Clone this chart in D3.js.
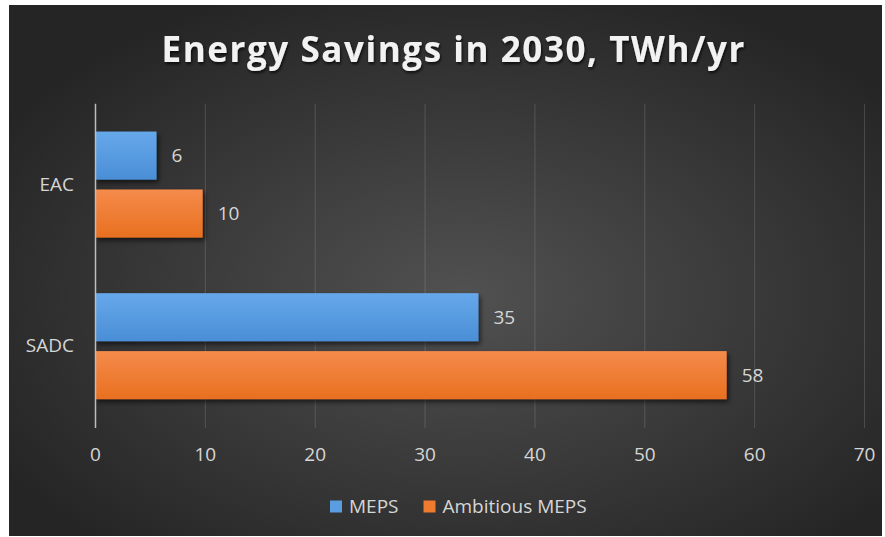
<!DOCTYPE html>
<html>
<head>
<meta charset="utf-8">
<script src="https://cdn.jsdelivr.net/npm/d3@7"></script>
<style>
  body { margin: 0; background: #ffffff; }
  text { font-family: "Open Sans", "DejaVu Sans", sans-serif; }
</style>
</head>
<body>
<div id="chart"></div>
<script>
// data (TWh/yr)
var categories = ["EAC", "SADC"];
var seriesNames = ["MEPS", "Ambitious MEPS"];
var meps = [5.6, 34.9];
var ambitious = [9.8, 57.5];
var xTicks = [0, 10, 20, 30, 40, 50, 60, 70];
var colors = ["#5a9de0", "#ef7b2f"];

chart();

function chart() {
  var width = 885,
      height = 537,
      margin = {top: 103.75, right: 21, bottom: 110, left: 95};

  var svg = d3.select("#chart").append("svg")
    .attr("width", width)
    .attr("height", height);

  var defs = svg.append("defs");

  var bg = defs.append("radialGradient")
    .attr("id", "bg")
    .attr("cx", "52%").attr("cy", "55%").attr("r", "62%");
  bg.append("stop").attr("offset", "0%").attr("stop-color", "#515151");
  bg.append("stop").attr("offset", "100%").attr("stop-color", "#252525");

  var barGrads = [["blueGrad", "#66a8ea", "#4a8ed6"], ["orangeGrad", "#f58b4b", "#e8701f"]];
  barGrads.forEach(function(g) {
    var lg = defs.append("linearGradient")
      .attr("id", g[0])
      .attr("x1", 0).attr("y1", 0).attr("x2", 0).attr("y2", 1);
    lg.append("stop").attr("offset", "0%").attr("stop-color", g[1]);
    lg.append("stop").attr("offset", "100%").attr("stop-color", g[2]);
  });

  defs.append("filter").attr("id", "barShadow")
    .attr("x", "-10%").attr("y", "-20%").attr("width", "130%").attr("height", "160%")
    .append("feDropShadow")
    .attr("dx", 2).attr("dy", 3).attr("stdDeviation", 2.5)
    .attr("flood-color", "#000").attr("flood-opacity", 0.6);

  defs.append("filter").attr("id", "titleShadow")
    .attr("x", "-5%").attr("y", "-30%").attr("width", "110%").attr("height", "160%")
    .append("feDropShadow")
    .attr("dx", 1).attr("dy", 2).attr("stdDeviation", 1.5)
    .attr("flood-color", "#000").attr("flood-opacity", 0.75);

  // chart area background
  svg.append("rect")
    .attr("x", 9).attr("y", 5)
    .attr("width", 873).attr("height", 531)
    .style("fill", "url(#bg)");

  var x = d3.scaleLinear()
    .domain([0, 70])
    .range([margin.left, width - margin.right]);

  var y = d3.scaleBand()
    .domain(categories)
    .range([margin.top, 427]);

  var y1 = d3.scaleBand()
    .domain(seriesNames)
    .range([0, y.bandwidth()])
    .paddingInner(0.17)
    .paddingOuter(0.48);

  // gridlines
  svg.append("g")
    .attr("class", "grid")
    .attr("transform", "translate(0," + 428 + ")")
    .call(d3.axisBottom(x).tickValues(xTicks).tickSize(-(428 - margin.top)).tickFormat(""))
    .call(function(g) { g.select(".domain").remove(); })
    .selectAll("line")
    .style("stroke", "#d9d9d9")
    .style("stroke-opacity", function(d) { return d === 0 ? 0 : 0.18; });

  // tick labels
  svg.append("g")
    .attr("transform", "translate(0," + 428 + ")")
    .call(d3.axisBottom(x).tickValues(xTicks).tickSize(0).tickPadding(20))
    .call(function(g) { g.select(".domain").remove(); })
    .selectAll("text")
    .style("font-family", "'Open Sans', sans-serif")
    .style("font-size", "19px")
    .style("fill", "#d6d6d6");

  // bars
  var rows = categories.map(function(c, i) {
    return [{cat: c, s: seriesNames[0], v: meps[i], k: 0},
            {cat: c, s: seriesNames[1], v: ambitious[i], k: 1}];
  });
  var flat = [].concat.apply([], rows);

  svg.append("g")
    .selectAll("rect")
    .data(flat).enter()
    .append("rect")
    .attr("x", x(0))
    .attr("y", function(d) { return y(d.cat) + y1(d.s); })
    .attr("width", function(d) { return x(d.v) - x(0); })
    .attr("height", y1.bandwidth())
    .style("fill", function(d) { return d.k === 0 ? "url(#blueGrad)" : "url(#orangeGrad)"; })
    .style("filter", "url(#barShadow)");

  // value labels
  svg.append("g")
    .selectAll("text")
    .data(flat).enter()
    .append("text")
    .attr("x", function(d) { return x(d.v) + 15; })
    .attr("y", function(d) { return y(d.cat) + y1(d.s) + y1.bandwidth() / 2; })
    .attr("dy", "0.35em")
    .style("font-size", "19px")
    .style("fill", "#d6d6d6")
    .text(function(d) { return d3.format(".0f")(d.v); });

  // category axis
  svg.append("g")
    .attr("transform", "translate(" + x(0) + ",0)")
    .call(d3.axisLeft(y).tickSize(0).tickSizeOuter(0).tickPadding(21))
    .call(function(g) {
      g.select(".domain")
        .attr("d", "M0.5," + margin.top + "V428")
        .style("stroke", "#bdbdbd")
        .style("stroke-width", 1.5);
    })
    .selectAll("text")
    .style("font-family", "'Open Sans', sans-serif")
    .style("font-size", "19px")
    .style("fill", "#d6d6d6");

  // title
  svg.append("text")
    .attr("x", 453)
    .attr("y", 62)
    .attr("text-anchor", "middle")
    .attr("textLength", 583)
    .attr("lengthAdjust", "spacing")
    .style("font-size", "35px")
    .style("font-weight", 700)
    .style("fill", "#f2f2f2")
    .style("filter", "url(#titleShadow)")
    .text("Energy Savings in 2030, TWh/yr");

  // legend
  var legend = svg.append("g")
    .attr("transform", "translate(330,500.5)");

  var item = legend.selectAll("g")
    .data(seriesNames).enter()
    .append("g")
    .attr("transform", function(d, i) { return "translate(" + (i === 0 ? 0 : 93.5) + ",0)"; });

  item.append("rect")
    .attr("width", 12)
    .attr("height", 12)
    .style("fill", function(d, i) { return colors[i]; });

  item.append("text")
    .attr("x", 19)
    .attr("y", 6)
    .attr("dy", "0.35em")
    .style("font-size", "19px")
    .style("fill", "#d6d6d6")
    .text(function(d) { return d; });
}
</script>
</body>
</html>
